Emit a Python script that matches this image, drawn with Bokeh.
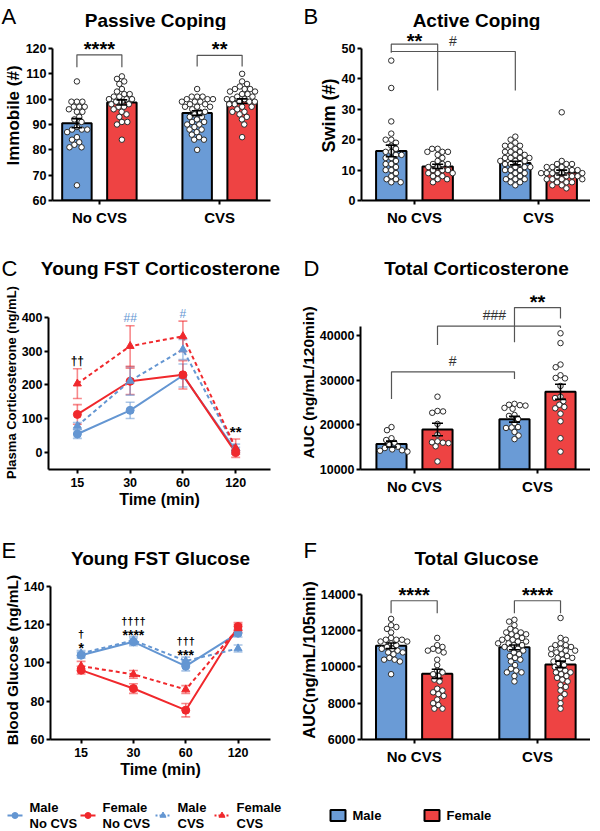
import math
from bokeh.plotting import figure
from bokeh.models import Range1d, FixedTicker
from bokeh.layouts import column, row
from bokeh.embed import file_html
from bokeh.resources import INLINE
from bokeh.core.properties import value

FONT = "Liberation Sans"
BAR_BLUE = "#6A9BD6"
BAR_RED = "#EE4343"
LN_BLUE = "#6496D2"
LN_RED = "#F0282C"
BRK = "#555555"

# ---------------- data ----------------
groups = ["No CVS", "CVS"]
times = ["15", "30", "60", "120"]

# A: Passive coping (Immobile #)  order: NoCVS male, NoCVS female, CVS male, CVS female
a_nocvs_m = [107, 99, 99, 99, 97, 97, 97, 96, 95, 95, 93, 92, 91, 89, 88, 88, 88, 87, 85, 84, 83, 82, 81, 81, 66]
a_nocvs_f = [109, 108, 107, 106, 104, 103, 102, 102, 101, 101, 100, 100, 100, 99, 99, 98, 98, 97, 97, 96, 95, 94, 93, 91, 91, 90, 84]
a_cvs_m = [104, 101, 101, 101, 100, 100, 100, 99, 99, 99, 98, 98, 97, 97, 97, 96, 95, 95, 94, 93, 93, 92, 91, 91, 90, 90, 89, 88, 88, 87, 86, 85, 84, 84, 80]
a_cvs_f = [110, 107, 106, 105, 104, 104, 104, 103, 103, 102, 102, 101, 101, 100, 100, 100, 99, 99, 99, 98, 98, 97, 97, 96, 95, 95, 94, 93, 92, 90, 85]
a_mean = [90.5, 98.7, 94.5, 99.2]
a_sem = [1.8, 1.0, 0.9, 0.9]

# B: Active coping (Swim #)
b_nocvs_m = [46, 37, 26, 22, 20, 20, 19, 18, 17, 16, 16, 15, 15, 14, 14, 13, 12, 12, 11, 10, 10, 9, 8, 7, 7, 6, 6]
b_nocvs_f = [17, 17, 16, 16, 16, 15, 14, 13, 12, 12, 12, 11, 11, 10, 10, 10, 9, 9, 9, 8, 8, 7, 7, 6]
b_cvs_m = [21, 20, 19, 18, 18, 18, 17, 16, 16, 16, 15, 15, 14, 14, 14, 14, 13, 13, 13, 12, 12, 12, 11, 11, 11, 10, 10, 10, 9, 9, 8, 8, 7, 7, 7, 6, 6, 5]
b_cvs_f = [29, 13, 12, 12, 12, 11, 11, 11, 10, 10, 10, 10, 9, 9, 9, 9, 9, 8, 8, 8, 8, 7, 7, 7, 7, 6, 6, 6, 5, 5, 4]
b_mean = [16.3, 11.2, 12.3, 9.2]
b_sem = [1.9, 0.7, 0.6, 0.8]

# C: Young FST corticosterone (ng/mL)
c_m_nocvs = [55, 125, 228, 6]
c_m_nocvs_err = [13, 24, 34, 10]
c_f_nocvs = [113, 211, 230, 0]
c_f_nocvs_err = [29, 39, 42, 5]
c_m_cvs = [79, 212, 305, 13]
c_m_cvs_err = [10, 42, 30, 12]
c_f_cvs = [204, 315, 344, 13]
c_f_cvs_err = [44, 60, 45, 27]

# D: Total corticosterone AUC
d_nocvs_m = [19500, 18800, 17000, 16600, 16000, 15500, 15100, 14800, 14500, 14300, 14200, 14000]
d_nocvs_f = [26300, 23000, 23100, 22700, 20200, 17800, 16300, 16100, 16000, 15900, 15200, 11800]
d_cvs_m = [24700, 24500, 24400, 24300, 23800, 23600, 22200, 22000, 21300, 20400, 19500, 19400, 19300, 18400, 17600, 16800]
d_cvs_f = [40500, 38300, 33500, 32900, 31100, 30500, 30400, 28700, 26300, 26000, 25300, 24500, 24000, 23700, 22500, 20800, 17000, 14000]
d_mean = [15700, 18950, 21250, 27400]
d_sem = [650, 1400, 650, 1700]

# E: Young FST glucose
e_m_nocvs = [104, 111, 98.3, 115.5]
e_m_nocvs_err = [1.5, 2, 2.5, 2]
e_f_nocvs = [96.2, 86.6, 75.3, 119]
e_f_nocvs_err = [2, 2.5, 3.5, 2]
e_m_cvs = [104.9, 111.8, 101, 107.5]
e_m_cvs_err = [1.5, 2, 2, 1.8]
e_f_cvs = [98.3, 94, 86.1, 118]
e_f_cvs_err = [2.5, 2, 2, 2]

# F: Total glucose AUC
f_nocvs_m = [12650, 12300, 12200, 12100, 11900, 11600, 11500, 11500, 11500, 11400, 11400, 11300, 11200, 11100, 11000, 11000, 10900, 10800, 10800, 10700, 10500, 10400, 10400, 10300, 9600]
f_nocvs_f = [11600, 11200, 11100, 11000, 10900, 10900, 10800, 10400, 10100, 9800, 9700, 9600, 9500, 9300, 9200, 8800, 8700, 8600, 8500, 8400, 8200, 8000, 7900, 7700, 7700]
f_cvs_m = [12600, 12500, 12300, 12100, 12000, 11900, 11900, 11800, 11800, 11700, 11600, 11600, 11500, 11500, 11400, 11400, 11300, 11300, 11200, 11200, 11100, 11000, 11000, 10900, 10800, 10700, 10600, 10500, 10400, 10300, 10100, 9900, 9800, 9700, 9700, 9500, 9200]
f_cvs_f = [12700, 11600, 11500, 11300, 11200, 11200, 11100, 11000, 11000, 10900, 10900, 10800, 10700, 10700, 10600, 10500, 10500, 10400, 10300, 10200, 10100, 10000, 9900, 9800, 9700, 9700, 9600, 9500, 9400, 9300, 9200, 9000, 8900, 8700, 8500, 8300, 8000, 7700]
f_mean = [11170, 9620, 11080, 10140]
f_sem = [150, 250, 130, 180]

# significance annotations: (x_left, x_right, top, left_leg_end, right_leg_end)
a_brackets = [(0.813, 1.187, 117.5, 112.6, 112.6), (1.813, 2.187, 117.3, 112.9, 112.9)]
a_marks = [("****", 1.0, 121.8), ("**", 2.0, 121.8)]
b_brackets = [(0.813, 1.187, 51.4, 48.9, 36.2), (0.813, 1.813, 49.0, 48.6, 36.2)]
b_marks = [("**", 1.0, 54.2)]
b_hash = [("#", 1.31, 52.3)]
d_brackets = [(0.813, 1.813, 31875, 25760, 30280), (1.187, 2.187, 42080, 37900, 41700), (1.813, 2.187, 46250, 38470, 43800)]
d_marks = [("**", 2.0, 48300)]
d_hash = [("#", 1.31, 34400), ("###", 1.65, 44500)]
f_brackets = [(0.813, 1.187, 13650, 12960, 12960), (1.813, 2.187, 13650, 12960, 12960)]
f_marks = [("****", 1.0, 14230), ("****", 2.0, 14230)]
c_marks_black = [("††", 1, 272)]
c_marks_star = [("**", 4, 75)]
c_marks_blue = [("##", 2, 398), ("#", 3, 410)]
e_daggers = [("†", 1, 115.3), ("††††", 2, 121.9), ("†††", 3, 111.5)]
e_stars = [("*", 1, 109.2), ("****", 2, 116.2), ("***", 3, 105.7)]

panel_letters = ["A", "B", "C", "D", "E", "F"]
panel_titles = ["Passive Coping", "Active Coping", "Young FST Corticosterone",
                "Total Corticosterone", "Young FST Glucose", "Total Glucose"]

BAR_OFF = 0.187
BAR_W = 0.245


# ---------------- helpers ----------------
def swarm(vals, cx, sx, sy, d=5.6):
    n = len(vals)
    order = sorted(range(n), key=lambda i: -vals[i])
    placed = []
    out = [cx] * n
    for k, i in enumerate(order):
        y = vals[i] * sy
        cands = [0.0]
        for (px, py) in placed:
            dy = abs(py - y)
            if dy < d:
                dx = math.sqrt(d * d - dy * dy)
                cands.append(px + dx)
                cands.append(px - dx)
        sgn = 1 if k % 2 else -1
        cands.sort(key=lambda c: (round(abs(c), 3), sgn * c))
        chosen = 0.0
        for c in cands:
            if all((c - px) ** 2 + (y - py) ** 2 >= d * d * 0.999 for (px, py) in placed):
                chosen = c
                break
        placed.append((chosen, y))
        out[i] = cx + chosen / sx
    return out


def make_fig(w, h, ml, mr, mt, mb, xr, yr):
    p = figure(width=w, height=h, x_range=Range1d(*xr), y_range=Range1d(*yr),
               output_backend="svg", toolbar_location=None,
               min_border_left=ml, min_border_right=mr, min_border_top=mt, min_border_bottom=mb)
    p.outline_line_color = None
    p.grid.visible = False
    p.background_fill_color = "white"
    p.border_fill_color = "white"
    return p


def strip(y0, h):
    """Full-width strip whose data coordinates are page pixels (x from 8 to 598)."""
    p = figure(width=590, height=h, x_range=Range1d(8, 598), y_range=Range1d(y0 + h, y0),
               output_backend="svg", toolbar_location=None, x_axis_type=None, y_axis_type=None,
               min_border_left=0, min_border_right=0, min_border_top=0, min_border_bottom=0)
    p.outline_line_color = None
    p.grid.visible = False
    return p


def header(y0, h, letters, titles, lpos, tpos):
    p = strip(y0, h)
    p.text(x=[q[0] for q in lpos], y=[q[1] for q in lpos], text=letters, text_font=value(FONT),
           text_font_size="22px", text_align="left", text_baseline="middle", text_color="black")
    p.text(x=[q[0] for q in tpos], y=[q[1] for q in tpos], text=titles, text_font=value(FONT),
           text_font_size="19px", text_font_style="bold", text_align="center",
           text_baseline="middle", text_color="black")
    return p


def style_axes(p, yticks, ybounds, ylabel, ylab_size, xticks, xlabels, xlab_size, xlabel=None):
    for ax in (p.xaxis[0], p.yaxis[0]):
        ax.axis_line_width = 2
        ax.axis_line_color = "black"
        ax.major_tick_line_width = 2
        ax.major_tick_line_color = "black"
        ax.major_tick_out = 4
        ax.major_tick_in = 0
        ax.minor_tick_line_color = None
        ax.major_label_text_font = FONT
        ax.major_label_text_font_style = "bold"
        ax.major_label_text_color = "black"
        ax.axis_label_text_font = FONT
        ax.axis_label_text_font_style = "bold"
        ax.axis_label_text_color = "black"
    ya = p.yaxis[0]
    ya.ticker = FixedTicker(ticks=yticks)
    ya.bounds = ybounds
    ya.axis_label = ylabel
    ya.axis_label_text_font_size = f"{ylab_size}px"
    ya.major_label_text_font_size = "12.5px"
    ya.major_label_standoff = 2
    ya.axis_label_standoff = 0
    xa = p.xaxis[0]
    xa.ticker = FixedTicker(ticks=xticks)
    xa.major_label_overrides = {t: l for t, l in zip(xticks, xlabels)}
    xa.major_label_text_font_size = f"{xlab_size}px"
    xa.major_label_standoff = 4
    if xlabel:
        xa.axis_label = xlabel
        xa.axis_label_text_font_size = "16px"
        xa.axis_label_standoff = 1


def bar_panel(p, point_lists, means, sems, base, sx, sy):
    xs = [g + o for g in (1, 2) for o in (-BAR_OFF, BAR_OFF)]
    colors = [BAR_BLUE, BAR_RED, BAR_BLUE, BAR_RED]
    p.vbar(x=xs, bottom=base, top=means, width=BAR_W, fill_color=colors,
           line_color="black", line_width=2)
    for x, pts in zip(xs, point_lists):
        px = swarm(pts, x, sx, sy)
        p.scatter(px, pts, size=5.5, marker="circle", fill_color="white",
                  line_color="#2a2a2a", line_width=1)
    lo = [m - s for m, s in zip(means, sems)]
    hi = [m + s for m, s in zip(means, sems)]
    cw = 5.5 / sx
    p.segment(x0=xs, x1=xs, y0=lo, y1=hi, line_color="black", line_width=1.6)
    p.segment(x0=[x - cw for x in xs], x1=[x + cw for x in xs], y0=hi, y1=hi, line_color="black", line_width=1.6)
    p.segment(x0=[x - cw for x in xs], x1=[x + cw for x in xs], y0=lo, y1=lo, line_color="black", line_width=1.6)


def brackets(p, specs):
    p.multi_line(xs=[[s[0], s[0], s[1], s[1]] for s in specs],
                 ys=[[s[3], s[2], s[2], s[4]] for s in specs],
                 line_color=BRK, line_width=1.2)


def marks(p, items, size, bold=True, color="black", yoff=0):
    p.text(x=[m[1] for m in items], y=[m[2] for m in items], text=[m[0] for m in items],
           text_font=value(FONT), text_font_size=f"{size}px",
           text_font_style="bold" if bold else "normal", text_color=color,
           text_align="center", text_baseline="middle", y_offset=yoff)


def line_panel(p, series, sx):
    xs = [1, 2, 3, 4]
    cw = 4.5 / sx
    for ys, errs, col, dash, mk in series:
        p.line(xs, ys, line_color=col, line_width=2, line_dash=dash)
    for ys, errs, col, dash, mk in series:
        lo = [y - e for y, e in zip(ys, errs)]
        hi = [y + e for y, e in zip(ys, errs)]
        p.segment(x0=xs, x1=xs, y0=lo, y1=hi, line_color=col, line_width=1.6, line_alpha=0.55)
        p.segment(x0=[x - cw for x in xs], x1=[x + cw for x in xs], y0=hi, y1=hi, line_color=col, line_width=1.6, line_alpha=0.55)
        p.segment(x0=[x - cw for x in xs], x1=[x + cw for x in xs], y0=lo, y1=lo, line_color=col, line_width=1.6, line_alpha=0.55)
    for ys, errs, col, dash, mk in series:
        p.scatter(xs, ys, marker=mk, size=8, fill_color=col, line_color=col)


# ---------------- headers (page-pixel coordinates) ----------------
h1 = header(0, 30, panel_letters[0:2], panel_titles[0:2], [(9, 16), (311, 16)], [(163, 20), (484, 20)])
h2 = header(255, 27, panel_letters[2:4], panel_titles[2:4], [(9, 268), (311, 268)], [(168, 268), (484, 268)])
h3 = header(530, 40, panel_letters[4:6], panel_titles[4:6], [(9, 550), (311, 550)], [(168, 558), (484, 558)])

# ---------------- Panel A ----------------
pa = make_fig(292, 225, 47, 22, 0, 55, (0.610, 2.423), (60, 127.1))
bar_panel(pa, [a_nocvs_m, a_nocvs_f, a_cvs_m, a_cvs_f], a_mean, a_sem, 60, 123, 2.533)
brackets(pa, a_brackets)
marks(pa, a_marks, 20, yoff=5)
style_axes(pa, [60, 70, 80, 90, 100, 110, 120], (60, 120), "Immobile (#)", 17, [1, 2], groups, 15)

# ---------------- Panel B ----------------
pb = make_fig(298, 225, 69, 0, 0, 54, (0.573, 2.419), (0, 55.9))
bar_panel(pb, [b_nocvs_m, b_nocvs_f, b_cvs_m, b_cvs_f], b_mean, b_sem, 0, 124, 3.06)
brackets(pb, b_brackets)
marks(pb, b_marks, 20, yoff=5)
marks(pb, b_hash, 14, bold=False, color="#333333")
style_axes(pb, [0, 10, 20, 30, 40, 50], (0, 50), "Swim (#)", 18, [1, 2], groups, 15)

# ---------------- Panel C ----------------
pc = make_fig(292, 248, 47, 22, 13, 60, (0.453, 4.66), (-50, 464.7))
line_panel(pc, [
    (c_m_nocvs, c_m_nocvs_err, LN_BLUE, "solid", "circle"),
    (c_f_nocvs, c_f_nocvs_err, LN_RED, "solid", "circle"),
    (c_m_cvs, c_m_cvs_err, LN_BLUE, "4 3", "triangle"),
    (c_f_cvs, c_f_cvs_err, LN_RED, "4 3", "triangle"),
], 53)
marks(pc, c_marks_black, 12)
marks(pc, c_marks_star, 15, yoff=4)
marks(pc, c_marks_blue, 12, bold=False, color=LN_BLUE)
style_axes(pc, [0, 100, 200, 300, 400], (-50, 400), "Plasma Corticosterone (ng/mL)", 13,
           [1, 2, 3, 4], times, 12.5, xlabel="Time (min)")

# ---------------- Panel D ----------------
pd_ = make_fig(298, 248, 68, 0, 0, 61, (0.561, 2.431), (10000, 48958))
bar_panel(pd_, [d_nocvs_m, d_nocvs_f, d_cvs_m, d_cvs_f], d_mean, d_sem, 10000, 123, 0.0048)
brackets(pd_, d_brackets)
marks(pd_, d_marks, 20, yoff=4)
marks(pd_, d_hash, 14, bold=False, color="#333333")
style_axes(pd_, [10000, 20000, 30000, 40000], (10000, 42000), "AUC (ng/mL/120min)", 15.5, [1, 2], groups, 15)

# ---------------- Panel E ----------------
pe = make_fig(292, 215, 47, 22, 10, 46, (0.415, 4.62), (60, 143.0))
line_panel(pe, [
    (e_m_nocvs, e_m_nocvs_err, LN_BLUE, "solid", "circle"),
    (e_f_nocvs, e_f_nocvs_err, LN_RED, "solid", "circle"),
    (e_m_cvs, e_m_cvs_err, LN_BLUE, "4 3", "triangle"),
    (e_f_cvs, e_f_cvs_err, LN_RED, "4 3", "triangle"),
], 53)
marks(pe, e_daggers, 11)
marks(pe, e_stars, 14, yoff=3)
style_axes(pe, [60, 80, 100, 120, 140], (60, 140), "Blood Glucose (ng/mL)", 15.5,
           [1, 2, 3, 4], times, 12.5, xlabel="Time (min)")

# ---------------- Panel F ----------------
pf = make_fig(298, 215, 69, 0, 2, 45, (0.573, 2.43), (6000, 14765))
bar_panel(pf, [f_nocvs_m, f_nocvs_f, f_cvs_m, f_cvs_f], f_mean, f_sem, 6000, 123.3, 0.019166)
brackets(pf, f_brackets)
marks(pf, f_marks, 20, yoff=5)
style_axes(pf, [6000, 8000, 10000, 12000, 14000], (6000, 14000), "AUC(ng/mL/105min)", 16.5, [1, 2], groups, 15)

# ---------------- Legend (page-pixel coordinates) ----------------
legend_lines = [
    ("Male\nNo CVS", LN_BLUE, "solid", "circle", 15),
    ("Female\nNo CVS", LN_RED, "solid", "circle", 88),
    ("Male\nCVS", LN_BLUE, "dashed", "triangle", 163),
    ("Female\nCVS", LN_RED, "dashed", "triangle", 222),
]
legend_boxes = [("Male", BAR_BLUE, 345.5), ("Female", BAR_RED, 439.5)]

pl = strip(785, 46)
yc = 815
for lab, col, dash, mk, x0 in legend_lines:
    pl.line([max(x0, 9), x0 + 15], [yc, yc], line_color=col, line_width=1.8,
            line_dash="2 2" if dash == "dashed" else "solid")
    pl.scatter([x0 + 7.5], [yc], marker=mk, size=6, fill_color=col, line_color=col)
    pl.text(x=[x0 + 22], y=[yc], text=[lab], text_font=value(FONT), text_font_size="13px",
            text_font_style="bold", text_align="left", text_baseline="middle", text_line_height=1.1)
for lab, col, xc in legend_boxes:
    pl.rect(x=[xc], y=[yc], width=15, height=11, fill_color=col, line_color="black", line_width=2)
    pl.text(x=[xc + 14.5], y=[yc], text=[lab], text_font=value(FONT), text_font_size="13px",
            text_font_style="bold", text_align="left", text_baseline="middle")

layout = column(h1, row(pa, pb), h2, row(pc, pd_), h3, row(pe, pf), pl)
open("out.html", "w").write(file_html(layout, INLINE))
